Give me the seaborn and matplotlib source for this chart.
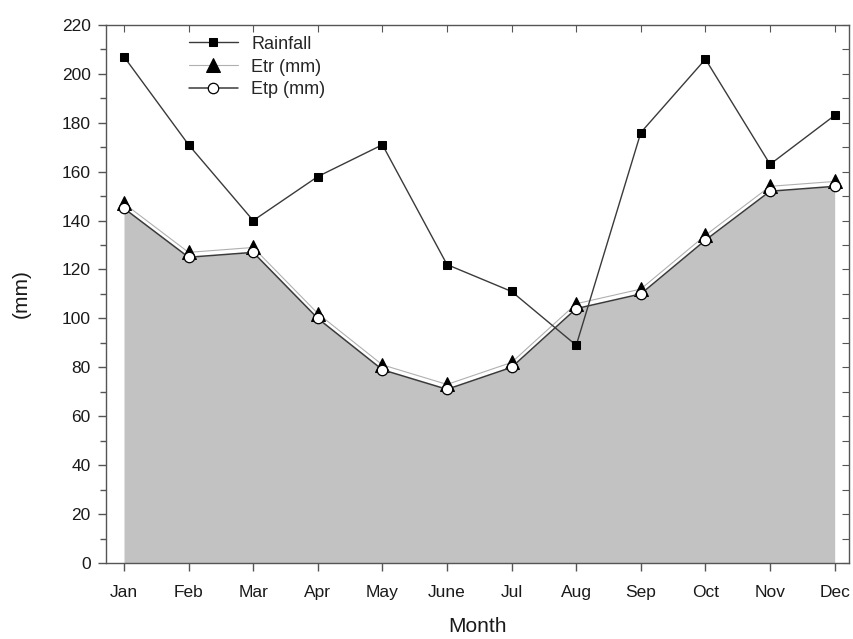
import numpy as np
import pandas as pd
import matplotlib
matplotlib.use("Agg")
import matplotlib.pyplot as plt
from matplotlib.ticker import MultipleLocator
import seaborn as sns

months = ["Jan", "Feb", "Mar", "Apr", "May", "June", "Jul", "Aug", "Sep", "Oct", "Nov", "Dec"]
rainfall = [207, 171, 140, 158, 171, 122, 111, 89, 176, 206, 163, 183]
etr = [147, 127, 129, 102, 81, 73, 82, 106, 112, 134, 154, 156]
etp = [145, 125, 127, 100, 79, 71, 80, 104, 110, 132, 152, 154]

sns.set_style("ticks")
plt.rcParams["font.family"] = ["Liberation Sans", "DejaVu Sans"]

df = pd.DataFrame({"idx": np.arange(len(months)), "Rainfall": rainfall,
                   "Etr": etr, "Etp": etp})

fig = plt.figure(figsize=(8.54, 6.39), dpi=100)
ax = fig.add_axes([0.124, 0.119, 0.870, 0.842])

# shaded area under the potential evapotranspiration curve
ax.fill_between(df["idx"], 0, df["Etp"], color="#c2c2c2", linewidth=0, zorder=1)

sns.lineplot(data=df, x="idx", y="Rainfall", ax=ax, color="#3a3a3a", linewidth=1.0,
             marker="s", markersize=6, markerfacecolor="black",
             markeredgecolor="black", label="Rainfall", zorder=4)
sns.lineplot(data=df, x="idx", y="Etr", ax=ax, color="#b0b0b0", linewidth=0.8,
             marker="^", markersize=10, markerfacecolor="black",
             markeredgecolor="black", label="Etr (mm)", zorder=3)
sns.lineplot(data=df, x="idx", y="Etp", ax=ax, color="#3a3a3a", linewidth=1.1,
             marker="o", markersize=7.5, markerfacecolor="white",
             markeredgecolor="black", markeredgewidth=0.9, label="Etp (mm)", zorder=5)

ax.set_xlim(-0.28, 11.22)
ax.set_ylim(0, 220)
ax.set_xticks(df["idx"])
ax.set_xticklabels(months)
ax.yaxis.set_major_locator(MultipleLocator(20))
ax.yaxis.set_minor_locator(MultipleLocator(10))

for s in ax.spines.values():
    s.set_color("#555555")
    s.set_linewidth(1.0)

ax.tick_params(axis="both", which="major", direction="out", length=6, width=1,
               color="#555555", labelsize=12.5, labelcolor="#1a1a1a")
ax.tick_params(axis="x", which="major", pad=10)
ax.tick_params(axis="y", which="major", pad=5)
ax.tick_params(axis="y", which="minor", direction="out", length=4, width=1,
               color="#555555")

# inward ticks on the top and right spines
sec_x = ax.secondary_xaxis("top")
sec_x.set_xticks(df["idx"])
sec_x.tick_params(direction="in", length=5, color="#555555", labeltop=False)
sec_x.spines["top"].set_visible(False)
sec_y = ax.secondary_yaxis("right")
sec_y.yaxis.set_major_locator(MultipleLocator(10))
sec_y.tick_params(direction="in", length=5, color="#555555", labelright=False)
sec_y.spines["right"].set_visible(False)

ax.set_xlabel("Month", fontsize=15, labelpad=12, color="#1a1a1a")
ax.set_ylabel("(mm)", fontsize=15, labelpad=22, color="#1a1a1a")

leg = ax.legend(loc="upper left", bbox_to_anchor=(0.097, 1.0), frameon=False,
                fontsize=13, handlelength=2.7, labelspacing=0.32, handletextpad=0.75,
                borderaxespad=0.2)

fig.savefig("out.png", dpi=100)
